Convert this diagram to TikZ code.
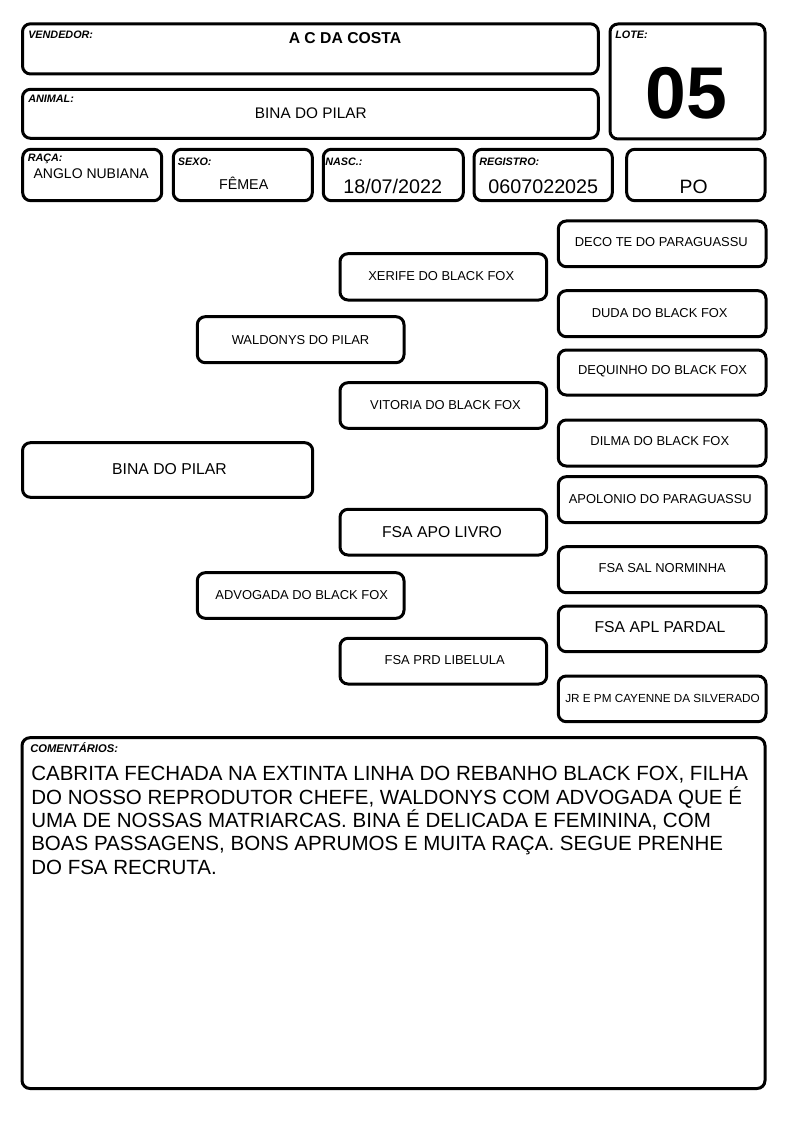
\documentclass[tikz,border=0pt]{standalone}
\usepackage{fontspec}
\setmainfont{Liberation Sans}
\usetikzlibrary{fit}
\newcommand\fsz[1]{\fontsize{#1}{#1}\selectfont}
\tikzset{
  box/.style={draw, line width=2.25pt, rounded corners=6pt, inner sep=0pt},
  lbl/.style={font=\fsz{8.1}\bfseries\itshape, anchor=base west, inner sep=0pt},
  val/.style={anchor=base, inner sep=0pt},
  ped/.style={font=\fsz{9.7}, inner sep=0pt, anchor=center},
  pedbig/.style={font=\fsz{11.8}, inner sep=0pt, anchor=center},
  comline/.style={anchor=base west, inner sep=0pt, font=\fsz{15.4}},
}
\begin{document}
\begin{tikzpicture}[x=0.75pt, y=-0.75pt]
\useasboundingbox (0,0) rectangle (794,1123);

% header boxes
\node[box, fit={(22.5,23.8) (598.3,74)}] (vend) {};
\node[box, fit={(22.5,89.3) (598.3,138.3)}] (anim) {};
\node[box, fit={(610,24) (765,139)}] (lote) {};
\node[box, fit={(22.7,149.3) (161.7,200.7)}] (raca) {};
\node[box, fit={(173.3,149.3) (312.3,200.7)}] (sexo) {};
\node[box, fit={(323.3,149.3) (463.3,200.7)}] (nasc) {};
\node[box, fit={(474,149.3) (612.3,200.7)}] (reg) {};
\node[box, fit={(626.7,149.3) (765,200.7)}] (po) {};

% header labels
\node[lbl] (lvend) at (28,38.5) {VENDEDOR:};
\node[lbl] (lanim) at (28,102.5) {ANIMAL:};
\node[lbl] (llote) at (615,39) {LOTE:};
\node[lbl] (lraca) at (27.5,161.5) {RAÇA:};
\node[lbl] (lsexo) at (177.7,166) {SEXO:};
\node[lbl] (lnasc) at (325,166) {NASC.:};
\node[lbl] (lreg) at (479,166) {REGISTRO:};

% header values
\node[val, font=\fsz{11.8}\bfseries] (vvend) at (345,43.5) {A C DA COSTA};
\node[val, font=\fsz{11.5}] (vanim) at (310.8,119) {BINA DO PILAR};
\node[val, font=\fsz{55}\bfseries] (vlote) at (686.5,119) {05};
\node[val, font=\fsz{10.5}] (vraca) at (91.2,178.3) {ANGLO NUBIANA};
\node[val, font=\fsz{10.7}] (vsexo) at (243.7,190) {FÊMEA};
\node[val, font=\fsz{14.8}] (vnasc) at (392.7,193.3) {18/07/2022};
\node[val, font=\fsz{14.8}] (vreg) at (543.3,193.3) {0607022025};
\node[val, font=\fsz{14.5}] (vpo) at (693.7,193.3) {PO};

% pedigree boxes
\node[box, fit={(22.5,442.7) (312.7,497.3)}] (g1) {};
\node[box, fit={(197.3,316.7) (404,362.7)}] (g2a) {};
\node[box, fit={(197.3,572.7) (404,618.3)}] (g2b) {};
\node[box, fit={(340,253.7) (546.7,300)}] (g3a) {};
\node[box, fit={(340,382.7) (546.7,428.3)}] (g3b) {};
\node[box, fit={(340,509.3) (546.7,555)}] (g3c) {};
\node[box, fit={(340,638.3) (546.7,684)}] (g3d) {};
\node[box, fit={(558.3,221) (766,266.7)}] (g4a) {};
\node[box, fit={(558.3,290.7) (766,336.7)}] (g4b) {};
\node[box, fit={(558.3,350) (766,395)}] (g4c) {};
\node[box, fit={(558.3,420) (766,466)}] (g4d) {};
\node[box, fit={(558.3,476.7) (766,522.7)}] (g4e) {};
\node[box, fit={(558.3,546.7) (766,592.7)}] (g4f) {};
\node[box, fit={(558.3,606) (766,651.7)}] (g4g) {};
\node[box, fit={(558.3,676) (766,721.7)}] (g4h) {};

% pedigree texts
\node[pedbig] (tg1) at (169.5,469.5) {BINA DO PILAR};
\node[ped] (tg2a) at (300.5,340) {WALDONYS DO PILAR};
\node[ped] (tg2b) at (301.7,595) {ADVOGADA DO BLACK FOX};
\node[ped] (tg3a) at (441.2,276) {XERIFE DO BLACK FOX};
\node[ped] (tg3b) at (445.5,405) {VITORIA DO BLACK FOX};
\node[pedbig] (tg3c) at (442,532) {FSA APO LIVRO};
\node[ped] (tg3d) at (444.7,660) {FSA PRD LIBELULA};
\node[ped] (tg4a) at (661.3,242.3) {DECO TE DO PARAGUASSU};
\node[ped] (tg4b) at (659.7,313.3) {DUDA DO BLACK FOX};
\node[ped] (tg4c) at (662.5,371.7) {DEQUINHO DO BLACK FOX};
\node[ped] (tg4d) at (659.8,441) {DILMA DO BLACK FOX};
\node[ped] (tg4e) at (660.3,498.7) {APOLONIO DO PARAGUASSU};
\node[ped] (tg4f) at (662.2,568.3) {FSA SAL NORMINHA};
\node[pedbig] (tg4g) at (660,627.3) {FSA APL PARDAL};
\node[ped, font=\fsz{8.8}] (tg4h) at (662.5,698.3) {JR E PM CAYENNE DA SILVERADO};

% comments
\node[box, fit={(22,737.7) (765,1088.5)}] (com) {};
\node[lbl, font=\fsz{8.4}\bfseries\itshape] (lcom) at (30,752.7) {COMENTÁRIOS:};
\node[comline] (c1) at (31,780.7) {CABRITA FECHADA NA EXTINTA LINHA DO REBANHO BLACK FOX, FILHA};
\node[comline] (c2) at (31,804) {DO NOSSO REPRODUTOR CHEFE, WALDONYS COM ADVOGADA QUE É};
\node[comline] (c3) at (31,827.3) {UMA DE NOSSAS MATRIARCAS. BINA É DELICADA E FEMININA, COM};
\node[comline] (c4) at (31,850.7) {BOAS PASSAGENS, BONS APRUMOS E MUITA RAÇA. SEGUE PRENHE};
\node[comline] (c5) at (31,874) {DO FSA RECRUTA.};
\end{tikzpicture}
\end{document}
